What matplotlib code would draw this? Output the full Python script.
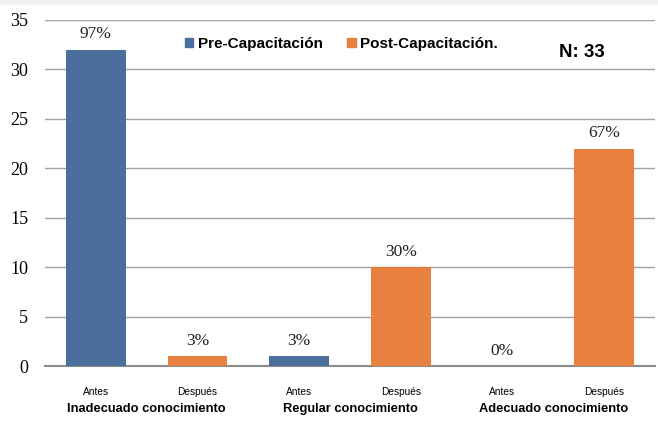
import matplotlib.pyplot as plt
from matplotlib.patches import Patch, Rectangle

# data
groups = ["Inadecuado conocimiento", "Regular conocimiento", "Adecuado conocimiento"]
moments = ["Antes", "Después"]
pre_values = [32, 1, 0]
post_values = [1, 10, 22]
pre_pct = ["97%", "3%", "0%"]
post_pct = ["3%", "30%", "67%"]
n_label = "N: 33"

blue = "#4a6f9c"
orange = "#e8803f"
sans = ["Liberation Sans", "DejaVu Sans"]
serif = ["Liberation Serif", "DejaVu Serif"]

fig = plt.figure(figsize=(6.58, 4.25), dpi=100)
fig.patch.set_facecolor("white")
fig.patches.append(Rectangle((0, 0.99), 1, 0.01, transform=fig.transFigure,
                             color="#f2f3f7", zorder=0))
ax = fig.add_axes([0.0684, 0.1388, 0.927, 0.8142])

pre_x = [2 * i for i in range(len(groups))]
post_x = [2 * i + 1 for i in range(len(groups))]
w = 0.59
ax.bar(pre_x, pre_values, width=w, color=blue, zorder=3)
ax.bar(post_x, post_values, width=w, color=orange, zorder=3)

for x, v, t in zip(pre_x + post_x, pre_values + post_values, pre_pct + post_pct):
    ax.text(x, v + 0.75, t, ha="center", va="bottom", fontsize=12.5,
            family=serif, color="#222222")

ax.set_xlim(-0.5, 5.5)
ax.set_ylim(0, 35)
ax.set_yticks(range(0, 36, 5))
ax.set_yticklabels([str(v) for v in range(0, 36, 5)], family=serif, fontsize=13)
ax.yaxis.grid(True, color="#a0a0a0", linewidth=1, zorder=0)
ax.set_axisbelow(True)
for s in ["top", "right", "left"]:
    ax.spines[s].set_visible(False)
ax.spines["bottom"].set_color("#8c8c8c")
ax.spines["bottom"].set_linewidth(1.5)
ax.tick_params(axis="y", length=0, pad=12)
ax.tick_params(axis="x", length=0, pad=15)

ax.set_xticks(pre_x + post_x)
ax.set_xticklabels([moments[0]] * 3 + [moments[1]] * 3, family=sans, fontsize=7.3)

for i, g in enumerate(groups):
    ax.text(2 * i + 0.5, -0.124, g, transform=ax.get_xaxis_transform(),
            ha="center", va="center", fontsize=9.3, fontweight="bold", family=sans)

handles = [Patch(color=blue, label="Pre-Capacitación"),
           Patch(color=orange, label="Post-Capacitación.")]
ax.legend(handles=handles, ncol=2, frameon=False, loc="center left",
          bbox_to_anchor=(0.207, 0.93), handlelength=0.55, handleheight=0.55,
          handletextpad=0.3, columnspacing=1.6,
          prop={"family": sans, "weight": "bold", "size": 11})

ax.text(0.88, 0.907, n_label, transform=ax.transAxes, ha="center", va="center",
        fontsize=13.5, fontweight="bold", family=sans)

fig.savefig("out.png", dpi=100)
